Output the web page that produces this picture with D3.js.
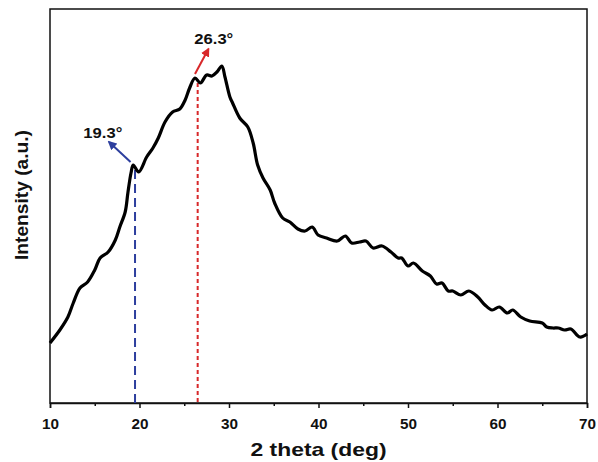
<!DOCTYPE html>
<html>
<head>
<meta charset="utf-8">
<script src="https://cdn.jsdelivr.net/npm/d3@7"></script>
<style>
  body { margin: 0; background: #fff; }
  text { font-family: "Liberation Sans", Arial, sans-serif; font-weight: bold; }
</style>
</head>
<body>
<div id="chart"></div>
<script>
// XRD pattern
let twoTheta = [10.0, 11.1, 12.0, 12.6, 13.35, 14.2, 15.0, 15.6, 16.5, 17.3,
  17.8, 18.4, 18.7, 19.05, 19.3, 19.9, 20.8, 21.5, 22.1, 22.85,
  23.7, 24.5, 25.1, 25.6, 26.2, 26.8, 27.5, 28.1, 28.65, 29.2,
  29.55, 30.1, 30.4, 31.2, 32.1, 32.7, 33.2, 33.8, 34.6, 35.1,
  36.0, 36.8, 37.7, 38.5, 39.3, 39.95, 40.9, 42.1, 43.0, 43.7,
  44.6, 45.3, 46.1, 47.1, 48.1, 48.9, 49.3, 50.0, 50.6, 51.6,
  52.5, 53.2, 53.8, 54.5, 55.0, 55.9, 56.8, 57.8, 58.6, 59.4,
  60.2, 61.1, 61.7, 62.6, 63.6, 65.0, 65.5, 66.2, 66.8, 67.5,
  68.2, 69.2, 70.0];
let intensity = [60, 73, 86, 100, 115, 121, 133, 145, 151, 163,
  176, 191, 210, 230, 238, 231, 246, 255, 265, 281,
  291, 294, 303, 315, 325, 320, 328, 327, 331, 337,
  326, 306, 300, 285, 276, 260, 238, 225, 213, 200,
  185, 181, 174, 172, 176, 168, 165, 162, 167, 160,
  161, 162, 155, 157, 151, 145, 145, 137, 140, 132,
  127, 119, 120, 112, 112, 108, 112, 106, 98, 93,
  96, 90, 93, 86, 82, 80, 76, 75, 75, 73,
  74, 66, 69];

let xTicks = [10, 20, 30, 40, 50, 60, 70];
let xMinorTicks = [15, 25, 35, 45, 55, 65];

// marked peaks
let peakLabels = ["19.3°", "26.3°"];
let peakLines = [19.5, 26.5];
let peakTops = [233, 320];

let width = 598, height = 462;
let margin = {left: 50, right: 11, top: 9, bottom: 59};

let svg = d3.select("#chart").append("svg")
  .attr("width", width)
  .attr("height", height);

let x = d3.scaleLinear()
  .domain([10, 70])
  .range([margin.left, width - margin.right]);

let y = d3.scaleLinear()
  .domain([0, 394])
  .range([height - margin.bottom, margin.top]);

let data = twoTheta.map(function (d, i) { return {t: d, v: intensity[i]}; });

// frame
svg.append("rect")
  .attr("x", x(10)).attr("y", y(394))
  .attr("width", x(70) - x(10)).attr("height", y(0) - y(394))
  .style("fill", "none").style("stroke", "#111").style("stroke-width", 1.5);

// x axis
let xAxis = svg.append("g")
  .attr("transform", "translate(0," + y(0) + ")")
  .call(d3.axisBottom(x).tickValues(xTicks).tickSize(5).tickFormat(d3.format("d")));
xAxis.select(".domain").style("stroke", "#111").style("stroke-width", 1.5);
xAxis.selectAll(".tick line").style("stroke", "#111").style("stroke-width", 1.5);
xAxis.selectAll("text")
  .attr("y", 15)
  .attr("textLength", 17)
  .attr("lengthAdjust", "spacingAndGlyphs")
  .style("font-size", "15px").style("font-weight", "bold").style("fill", "#111");

svg.append("g")
  .attr("transform", "translate(0," + y(0) + ")")
  .call(d3.axisBottom(x).tickValues(xMinorTicks).tickSize(3).tickFormat(""))
  .call(function (g) { g.select(".domain").remove(); })
  .selectAll("line").style("stroke", "#111").style("stroke-width", 1.5);

// axis titles
svg.append("text")
  .attr("x", (x(10) + x(70)) / 2).attr("y", 456)
  .attr("text-anchor", "middle")
  .attr("textLength", 136)
  .attr("lengthAdjust", "spacingAndGlyphs")
  .style("font-size", "19px").style("fill", "#111")
  .text("2 theta (deg)");

svg.append("text")
  .attr("transform", "translate(28," + 195 + ") rotate(-90)")
  .attr("text-anchor", "middle")
  .attr("textLength", 130)
  .attr("lengthAdjust", "spacingAndGlyphs")
  .style("font-size", "19px").style("fill", "#111")
  .text("Intensity (a.u.)");

// peak markers
let lineColors = ["#2d3f9e", "#d8282a"];
let dashes = ["9,5", "4,3"];

svg.selectAll(".peak")
  .data(peakLines)
  .enter()
  .append("line")
  .attr("x1", function (d) { return x(d); })
  .attr("x2", function (d) { return x(d); })
  .attr("y1", function (d, i) { return y(peakTops[i]); })
  .attr("y2", y(0))
  .style("stroke", function (d, i) { return lineColors[i]; })
  .style("stroke-width", 2)
  .style("stroke-dasharray", function (d, i) { return dashes[i]; });

// curve
let line = d3.line()
  .x(function (d) { return x(d.t); })
  .y(function (d) { return y(d.v); })
  .curve(d3.curveCatmullRom.alpha(0.5));

svg.append("path")
  .datum(data)
  .attr("d", line)
  .style("fill", "none")
  .style("stroke", "#000")
  .style("stroke-width", 3.2)
  .style("stroke-linejoin", "round");

// arrows
let defs = svg.append("defs");
lineColors.forEach(function (c, i) {
  defs.append("marker")
    .attr("id", "arrow" + i)
    .attr("viewBox", "0 0 10 10")
    .attr("refX", 8).attr("refY", 5)
    .attr("markerWidth", 4.5).attr("markerHeight", 4.5)
    .attr("orient", "auto")
    .append("path")
    .attr("d", "M0,0 L10,5 L0,10 Z")
    .style("fill", c);
});

// arrow tails/heads in data units
let arrowFrom = [[19.0, 241], [26.2, 329]];
let arrowTo = [[16.6, 261], [27.7, 354]];

svg.selectAll(".arrow")
  .data(arrowFrom)
  .enter()
  .append("line")
  .attr("x1", function (d) { return x(d[0]); })
  .attr("y1", function (d) { return y(d[1]); })
  .attr("x2", function (d, i) { return x(arrowTo[i][0]); })
  .attr("y2", function (d, i) { return y(arrowTo[i][1]); })
  .style("stroke", function (d, i) { return lineColors[i]; })
  .style("stroke-width", 2)
  .attr("marker-end", function (d, i) { return "url(#arrow" + i + ")"; });

let labelPos = [[15.9, 265], [28.3, 359]];
svg.selectAll(".plabel")
  .data(peakLabels)
  .enter()
  .append("text")
  .attr("x", function (d, i) { return x(labelPos[i][0]); })
  .attr("y", function (d, i) { return y(labelPos[i][1]); })
  .attr("text-anchor", "middle")
  .attr("textLength", 39)
  .attr("lengthAdjust", "spacingAndGlyphs")
  .style("font-size", "14px").style("fill", "#111")
  .text(function (d) { return d; });
</script>
</body>
</html>
